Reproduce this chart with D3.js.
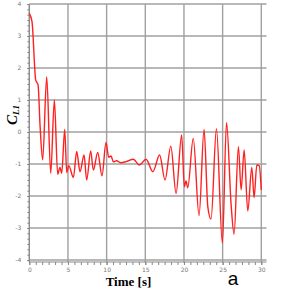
<!DOCTYPE html>
<html>
<head>
<script src="https://d3js.org/d3.v7.min.js"></script>
<style>
  body { margin: 0; background: #fff; }
  .axis text { font-family: "DejaVu Sans", sans-serif; font-size: 6px; fill: #777; }
  .axis line, .axis path { stroke: #888; }
</style>
</head>
<body>
<div id="chart"></div>
<script>
// C_L1 time history (extrema mostly)
const time = [0, 0.35, 0.83, 1.13, 1.4, 1.73, 2.25, 2.77, 3.24, 3.67, 3.97, 4.19, 4.58, 4.84,
  5.1, 5.7, 6.13, 6.56, 7.08, 7.42, 7.94, 8.28, 8.85, 9.4, 9.92, 10.27, 10.57, 10.87, 11.3,
  11.8, 12.6, 13.45, 14.23, 15.1, 15.98, 16.85, 17.55, 18.3, 18.98, 19.7, 20.05, 20.27, 20.49,
  21.2, 21.95, 22.6, 23.08, 23.5, 24.2, 24.97, 25.5, 26.1, 26.48, 27.04, 27.39, 27.78, 28.25,
  28.77, 29.07, 29.42, 29.72, 30];
const cl1 = [3.71, 3.45, 1.62, 1.47, 0.16, -0.87, 1.73, -1.29, 1.0, -1.32, -1.11, -1.29, 0.08, -1.27,
  -1.05, -1.42, -0.61, -1.24, -0.72, -1.5, -0.59, -1.19, -0.64, -1.37, -0.33, -0.79, -0.75, -0.93, -0.9,
  -0.96, -0.92, -0.85, -1.03, -0.85, -1.24, -0.72, -1.5, -0.44, -1.92, -0.09, -1.71, -1.53, -1.74,
  -0.2, -2.61, 0.08, -2.33, -2.72, 0.1, -3.48, 0.3, -2.28, -3.2, -0.46, -1.81, -0.56, -2.47,
  -1.11, -2.05, -1.03, -1.05, -1.81];

const xMajor = [0, 5, 10, 15, 20, 25, 30];
const yMajor = [-4, -3, -2, -1, 0, 1, 2, 3, 4];

const width = 295, height = 295;
const svg = d3.select("#chart").append("svg")
    .attr("width", width)
    .attr("height", height);

const x = d3.scaleLinear().domain([0, 30]).range([29.3, 261.3]);
const y = d3.scaleLinear().domain([-4, 4]).range([260, 4]);
const axisY = 262;

// grid
svg.append("g").selectAll("line")
  .data(xMajor)
  .join("line")
    .attr("x1", d => x(d)).attr("x2", d => x(d))
    .attr("y1", y(4)).attr("y2", axisY)
    .attr("stroke", "#a0a0a0").attr("stroke-width", 1.4);

svg.append("g").selectAll("line")
  .data(yMajor)
  .join("line")
    .attr("x1", x(0)).attr("x2", 266.5)
    .attr("y1", d => y(d)).attr("y2", d => y(d))
    .attr("stroke", "#a0a0a0").attr("stroke-width", 1.4);

// minor ticks (6 divisions between majors)
const xMinor = d3.range(0, 30.001, 5 / 6);
const yMinor = d3.range(-4, 4.001, 1 / 6);

svg.append("g")
    .attr("class", "axis")
    .attr("transform", "translate(0," + axisY + ")")
    .call(d3.axisBottom(x).tickValues(xMinor).tickSize(3).tickFormat(""))
    .call(g => g.select(".domain").remove());

svg.append("g")
    .attr("class", "axis")
    .attr("transform", "translate(0," + axisY + ")")
    .call(d3.axisBottom(x).tickValues(xMajor).tickSize(3).tickPadding(3).tickFormat(d => String(d)))
    .call(g => g.select(".domain").attr("d", "M" + x(0) + ",0H266.5"));

svg.append("g")
    .attr("class", "axis")
    .attr("transform", "translate(" + x(0) + ",0)")
    .call(d3.axisLeft(y).tickValues(yMinor).tickSize(2).tickFormat(""))
    .call(g => g.select(".domain").remove());

svg.append("g")
    .attr("class", "axis")
    .attr("transform", "translate(" + x(0) + ",0)")
    .call(d3.axisLeft(y).tickValues(yMajor).tickSize(2).tickPadding(6).tickFormat(d => String(d)))
    .call(g => g.select(".domain").attr("d", "M0," + y(4) + "V" + axisY));

// curve
const pts = time.map((t, i) => [t, cl1[i]]);
svg.append("path")
    .datum(pts)
    .attr("fill", "none")
    .attr("stroke", "#ff2020")
    .attr("stroke-width", 1.4)
    .attr("d", d3.line()
        .x(d => x(d[0]))
        .y(d => y(d[1]))
        .curve(d3.curveMonotoneX));

// labels
const ylab = svg.append("text")
    .attr("transform", "translate(17,115) rotate(-90)")
    .attr("text-anchor", "middle")
    .attr("font-family", "Liberation Serif, serif")
    .attr("font-weight", "bold")
    .attr("font-style", "italic")
    .attr("font-size", 15);
ylab.append("tspan").text("C");
ylab.append("tspan").attr("font-size", 9).attr("dy", 2).text("L1");

svg.append("text")
    .attr("x", 128.5).attr("y", 286)
    .attr("text-anchor", "middle")
    .attr("font-family", "Liberation Serif, serif")
    .attr("font-weight", "bold")
    .attr("font-size", 13)
    .text("Time [s]");

svg.append("text")
    .attr("x", 233).attr("y", 285)
    .attr("text-anchor", "middle")
    .attr("font-family", "Liberation Sans, Arial, sans-serif")
    .attr("font-size", 19)
    .text("a");
</script>
</body>
</html>
